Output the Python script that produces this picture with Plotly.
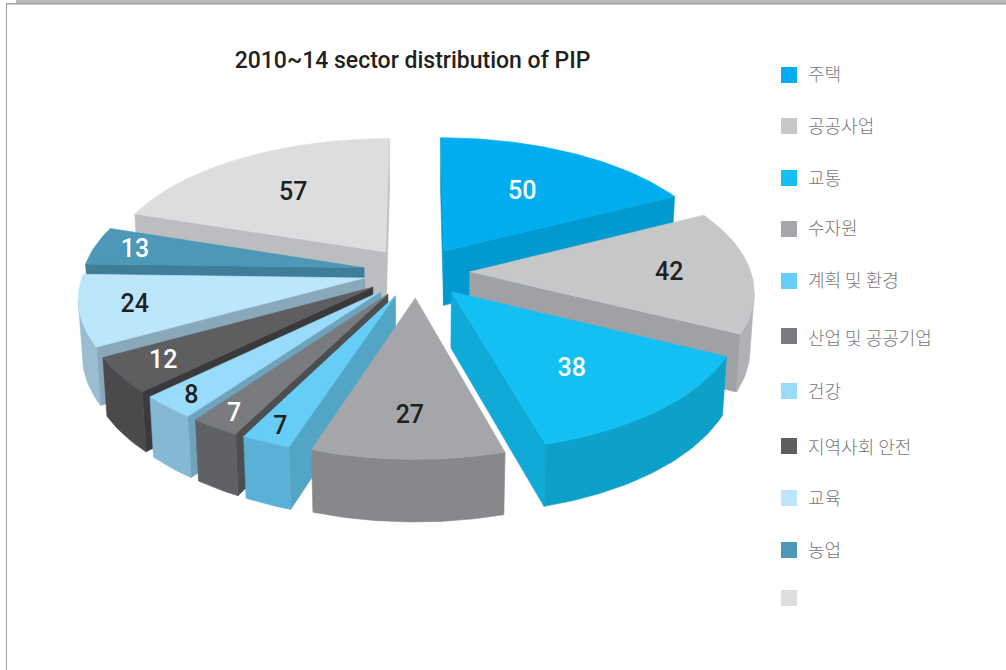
import math
import plotly.graph_objects as go

# ---- data ----
values = [50, 42, 38, 27, 7, 7, 8, 12, 24, 13, 57]
labels = ["주택", "공공사업", "교통", "수자원", "계획 및 환경", "산업 및 공공기업",
          "건강", "지역사회 안전", "교육", "농업", ""]
title = "2010~14 sector distribution of PIP"

# ---- styles ----
top_colors = ["#00aeef", "#c6c7c9", "#13c0f4", "#a5a6a9", "#66cdf7", "#7a7b7f",
              "#98dbfa", "#5e5e60", "#bce6fb", "#4c98b6", "#dcddde"]
cut_colors = ["#0099d0", "#a0a1a5", "#10aad6", "#87888c", "#52a5c5", "#4d4e50",
              "#6fa2bb", "#3a3a3c", "#89a9ba", "#3f7d98", "#bcbdc0"]
outer_colors = ["#0099d0", "#b0b1b5", "#0da0c8", "#87888c", "#5ab0d5", "#606164",
                "#85b8d5", "#4a4a4c", "#9abdd2", "#3f7d98", "#bcbdc0"]
value_text_colors = ["white", "#231f20", "white", "#231f20", "#231f20", "white",
                     "#231f20", "white", "#231f20", "white", "#231f20"]
label_radius = [0.59, 0.71, 0.64, 0.75, 0.90, 0.90, 0.90, 0.84, 0.81, 0.85, 0.62]
label_angle_shift = [0, 0, 3, 0, 0, 0, 0, 0, 0, 0, 0]
explode = 0.19
CX, CY, RX, RY, DEPTH, PERSP, PERSP_Z = 416.5, 272, 281, 133, 56, 0.13, 0.012
legend_marker_y = [75, 126, 178, 229, 281, 336, 391, 446, 498, 550, 598]
legend_text_y = [76, 128, 180, 230, 282, 340, 393, 449, 500, 552, 600]
FONT = "Roboto"
KFONT = "Noto Sans CJK KR"


def project(X, Y, Z=0.0):
    s = 1.0 / (1 + PERSP * Y + PERSP_Z * Z)
    return CX + RX * X * s, CY - RY * Y * s + DEPTH * Z * s


def poly(pts, color):
    xs = [p[0] for p in pts] + [pts[0][0]]
    ys = [p[1] for p in pts] + [pts[0][1]]
    return go.Scatter(x=xs, y=ys, mode="lines", fill="toself", fillcolor=color,
                      line=dict(color=color, width=0.6), hoverinfo="skip", showlegend=False)


total = sum(values)
slices = []
acc = 0.0
for i, v in enumerate(values):
    a0 = acc / total * 2 * math.pi
    acc += v
    a1 = acc / total * 2 * math.pi
    slices.append((i, a0, a1, (a0 + a1) / 2))

fig = go.Figure()
text_x, text_y, text_s, text_c = [], [], [], []
for i, a0, a1, mid in sorted(slices, key=lambda t: -math.cos(t[3])):
    ax, ay = explode * math.sin(mid), explode * math.cos(mid)
    n = max(6, int((a1 - a0) / 0.02))
    arc = [(ax + math.sin(a0 + (a1 - a0) * k / n), ay + math.cos(a0 + (a1 - a0) * k / n))
           for k in range(n + 1)]
    ring = [(ax, ay)] + arc
    # cut walls
    for A, B in [((ax, ay), arc[0]), (arc[-1], (ax, ay))]:
        if project(*B)[0] < project(*A)[0]:
            fig.add_trace(poly([project(*A), project(*B), project(*B, 1), project(*A, 1)], cut_colors[i]))
    # outer wall
    run = []
    for A, B in zip(arc[:-1], arc[1:]):
        if project(*B)[0] < project(*A)[0]:
            if not run:
                run.append(A)
            run.append(B)
    if run:
        pts = [project(*p) for p in run] + [project(*p, 1) for p in reversed(run)]
        fig.add_trace(poly(pts, outer_colors[i]))
    fig.add_trace(poly([project(*p) for p in ring], top_colors[i]))
    r = label_radius[i]
    la = mid + math.radians(label_angle_shift[i])
    lx, ly = project(ax + r * math.sin(la), ay + r * math.cos(la))
    text_x.append(lx); text_y.append(ly + 2); text_s.append(str(values[i])); text_c.append(value_text_colors[i])

fig.add_trace(go.Scatter(x=text_x, y=text_y, text=text_s, mode="text", hoverinfo="skip", showlegend=False,
                         textfont=dict(family=FONT, size=25, color=text_c, weight=500)))
fig.add_trace(go.Scatter(x=[412.5], y=[62], text=[title], mode="text", hoverinfo="skip", showlegend=False,
                         textfont=dict(family=FONT, size=23, color="#231f20", weight=500)))
fig.add_trace(go.Scatter(x=[789] * len(labels), y=legend_marker_y, mode="markers", hoverinfo="skip", showlegend=False,
                         marker=dict(symbol="square", size=16, color=top_colors, line=dict(width=0))))
fig.add_trace(go.Scatter(x=[808] * len(labels), y=legend_text_y, text=labels, mode="text",
                         textposition="middle right", hoverinfo="skip", showlegend=False,
                         textfont=dict(family=KFONT, size=18, color="#77787b", weight=300)))

fig.update_layout(
    width=1006, height=670, margin=dict(l=0, r=0, t=0, b=0),
    paper_bgcolor="white", plot_bgcolor="white", showlegend=False,
    xaxis=dict(range=[0, 1006], visible=False, fixedrange=True),
    yaxis=dict(range=[670, 0], visible=False, fixedrange=True),
    shapes=[
        dict(type="rect", x0=16, x1=1006, y0=0, y1=3, fillcolor="#b8b9bc", line_width=0),
        dict(type="rect", x0=6, x1=1006, y0=3, y1=4.5, fillcolor="#a0a1a4", line_width=0),
        dict(type="rect", x0=6, x1=7, y0=3, y1=670, fillcolor="#a0a1a4", line_width=0),
    ],
)
fig.write_html("out.html", config={"displayModeBar": False},
               post_script="document.body.style.margin='0';")
